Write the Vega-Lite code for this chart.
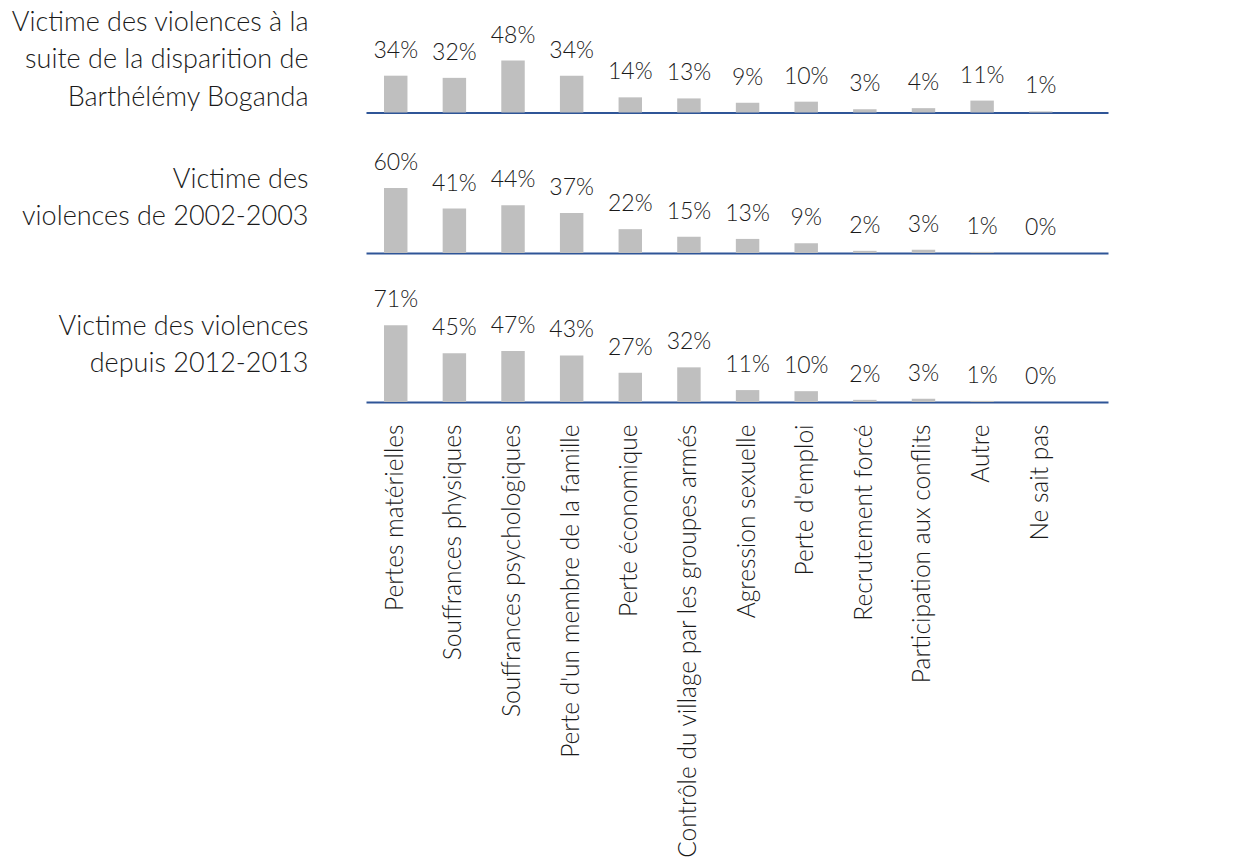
{
  "$schema": "https://vega.github.io/schema/vega-lite/v6.json",
  "padding": {"left": 10, "top": 8, "right": 5, "bottom": 5},
  "background": "white",
  "spacing": 25.5,
  "bounds": "flush",
  "config": {
    "view": {"stroke": null},
    "font": "Lato",
    "axis": {"grid": false, "ticks": false, "labelFont": "Lato", "titleFont": "Lato", "labelFontWeight": 300, "titleFontWeight": 300, "labelColor": "#1a1a1a", "titleColor": "#1a1a1a", "domainColor": "#2f5597", "domainWidth": 2}
  },
  "datasets": {
    "r1": [
      {"cat": "Pertes matérielles", "v": 0.34},
      {"cat": "Souffrances physiques", "v": 0.32},
      {"cat": "Souffrances psychologiques", "v": 0.48},
      {"cat": "Perte d'un membre de la famille", "v": 0.34},
      {"cat": "Perte économique", "v": 0.14},
      {"cat": "Contrôle du village par les groupes armés", "v": 0.13},
      {"cat": "Agression sexuelle", "v": 0.09},
      {"cat": "Perte d'emploi", "v": 0.10},
      {"cat": "Recrutement forcé", "v": 0.03},
      {"cat": "Participation aux conflits", "v": 0.04},
      {"cat": "Autre", "v": 0.11},
      {"cat": "Ne sait pas", "v": 0.01}
    ],
    "r2": [
      {"cat": "Pertes matérielles", "v": 0.60},
      {"cat": "Souffrances physiques", "v": 0.41},
      {"cat": "Souffrances psychologiques", "v": 0.44},
      {"cat": "Perte d'un membre de la famille", "v": 0.37},
      {"cat": "Perte économique", "v": 0.22},
      {"cat": "Contrôle du village par les groupes armés", "v": 0.15},
      {"cat": "Agression sexuelle", "v": 0.13},
      {"cat": "Perte d'emploi", "v": 0.09},
      {"cat": "Recrutement forcé", "v": 0.02},
      {"cat": "Participation aux conflits", "v": 0.03},
      {"cat": "Autre", "v": 0.01},
      {"cat": "Ne sait pas", "v": 0.0}
    ],
    "r3": [
      {"cat": "Pertes matérielles", "v": 0.71},
      {"cat": "Souffrances physiques", "v": 0.45},
      {"cat": "Souffrances psychologiques", "v": 0.47},
      {"cat": "Perte d'un membre de la famille", "v": 0.43},
      {"cat": "Perte économique", "v": 0.27},
      {"cat": "Contrôle du village par les groupes armés", "v": 0.32},
      {"cat": "Agression sexuelle", "v": 0.11},
      {"cat": "Perte d'emploi", "v": 0.10},
      {"cat": "Recrutement forcé", "v": 0.02},
      {"cat": "Participation aux conflits", "v": 0.03},
      {"cat": "Autre", "v": 0.01},
      {"cat": "Ne sait pas", "v": 0.0}
    ]
  },
  "vconcat": [
    {
      "width": 742, "height": 104.5,
      "data": {"name": "r1"},
      "encoding": {
        "x": {"field": "cat", "type": "nominal", "sort": null,
          "scale": {"paddingInner": 0.6, "paddingOuter": 0.627, "align": 0.245},
          "axis": {"title": null, "labels": false}},
        "y": {"field": "v", "type": "quantitative", "scale": {"domain": [0, 0.965], "nice": false},
          "axis": {"title": ["Victime des violences à la", "suite de la disparition de", "Barthélémy Boganda"], "labels": false, "domain": false,
            "titleAngle": 0, "titleAlign": "right", "titleBaseline": "middle", "titleX": -58, "titleY": 14, "titleFontSize": 27, "titleLineHeight": 37.5}}
      },
      "layer": [
        {"mark": {"type": "bar", "color": "#bfbfbf"}},
        {"mark": {"type": "text", "baseline": "alphabetic", "dy": -18, "font": "Lato", "fontWeight": 300, "fontSize": 23, "color": "#1a1a1a"},
          "encoding": {"text": {"field": "v", "format": ".0%"}}}
      ]
    },
    {
      "width": 742, "height": 114.5,
      "data": {"name": "r2"},
      "encoding": {
        "x": {"field": "cat", "type": "nominal", "sort": null,
          "scale": {"paddingInner": 0.6, "paddingOuter": 0.627, "align": 0.245},
          "axis": {"title": null, "labels": false}},
        "y": {"field": "v", "type": "quantitative", "scale": {"domain": [0, 1.057], "nice": false},
          "axis": {"title": ["Victime des", "violences de 2002-2003"], "labels": false, "domain": false,
            "titleAngle": 0, "titleAlign": "right", "titleBaseline": "middle", "titleX": -58, "titleY": 40.5, "titleFontSize": 27, "titleLineHeight": 37.5}}
      },
      "layer": [
        {"mark": {"type": "bar", "color": "#bfbfbf"}},
        {"mark": {"type": "text", "baseline": "alphabetic", "dy": -18, "font": "Lato", "fontWeight": 300, "fontSize": 23, "color": "#1a1a1a"},
          "encoding": {"text": {"field": "v", "format": ".0%"}}}
      ]
    },
    {
      "width": 742, "height": 123,
      "data": {"name": "r3"},
      "encoding": {
        "x": {"field": "cat", "type": "nominal", "sort": null,
          "scale": {"paddingInner": 0.6, "paddingOuter": 0.627, "align": 0.245},
          "axis": {"title": null, "labelAngle": -90, "labelAlign": "right", "labelBaseline": "middle", "labelPadding": 22, "labelFontSize": 24.5, "labelLimit": 0}},
        "y": {"field": "v", "type": "quantitative", "scale": {"domain": [0, 1.136], "nice": false},
          "axis": {"title": ["Victime des violences", "depuis 2012-2013"], "labels": false, "domain": false,
            "titleAngle": 0, "titleAlign": "right", "titleBaseline": "middle", "titleX": -58, "titleY": 47, "titleFontSize": 27, "titleLineHeight": 37.5}}
      },
      "layer": [
        {"mark": {"type": "bar", "color": "#bfbfbf"}},
        {"mark": {"type": "text", "baseline": "alphabetic", "dy": -18, "font": "Lato", "fontWeight": 300, "fontSize": 23, "color": "#1a1a1a"},
          "encoding": {"text": {"field": "v", "format": ".0%"}}}
      ]
    }
  ]
}
